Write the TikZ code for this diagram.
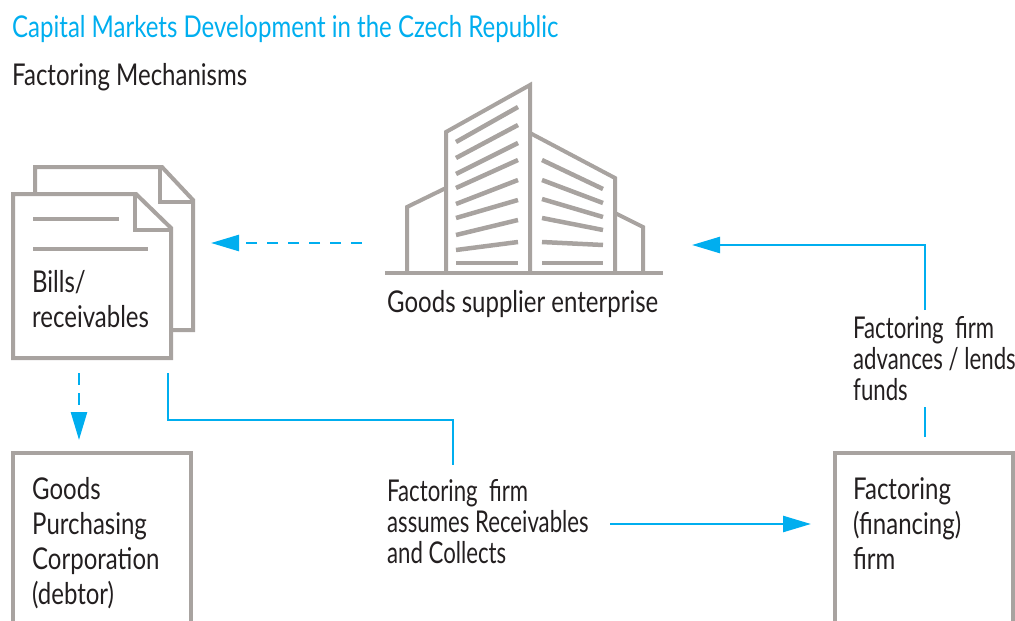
\documentclass[tikz,border=0pt]{standalone}
\usepackage{fontspec}
\setmainfont{Lato}[FakeStretch=0.8]
\newfontfamily\notefont{Lato}[FakeStretch=0.74]
\usetikzlibrary{positioning, arrows.meta}
\definecolor{fmblue}{RGB}{0,174,239}
\definecolor{fmgrey}{RGB}{168,163,160}
\definecolor{fmtext}{RGB}{35,31,32}

\begin{document}
\begin{tikzpicture}[
		x=1pt, y=-1pt,
		>={Triangle[length=28pt,width=16pt]},
		icon/.style={draw=fmgrey, line width=4pt},
		stripe/.style={draw=fmgrey, line width=4.5pt},
		party/.style={draw=fmgrey, line width=4pt, outer sep=0pt, minimum width=178pt, minimum height=220pt, anchor=north west},
		boxtext/.style={font=\fontsize{30}{35}\selectfont, text=fmtext, align=left, inner sep=0pt, anchor=base west},
		note/.style={font=\notefont\fontsize{30}{31}\selectfont, text=fmtext, align=left, inner sep=0pt, anchor=base west},
		flowline/.style={draw=fmblue, line width=2.5pt},
		flow/.style={->, flowline},
		dflow/.style={flow, dash pattern=on 11pt off 10pt},
		title/.style={font=\fontsize{30}{35}\selectfont, inner sep=0pt, anchor=base west}
		]
		\useasboundingbox (0,0) rectangle (1015,621);
		\clip (0,0) rectangle (1015,621);
		
		% ==========================================
		% TITLES
		% ==========================================
		\node[title, text=fmblue] (title) at (12,37) {Capital Markets Development in the Czech Republic};
		\node[title, text=fmtext] (subtitle) at (12,85) {Factoring Mechanisms};
		
		% ==========================================
		% BILLS / RECEIVABLES ICON
		% ==========================================
		\draw[icon, fill=white] (35,167) -- (162,167) -- (193,200) -- (193,330) -- (35,330) -- cycle;
		\draw[icon] (160,167) -- (160,202) -- (193,202);
		\draw[icon, fill=white] (13,194) -- (136,194) -- (171,228) -- (171,358) -- (13,358) -- cycle;
		\draw[icon] (135,194) -- (135,230) -- (171,230);
		\draw[icon] (33,219) -- (119,219);
		\draw[icon] (33,249) -- (148,249);
		\node[boxtext] (bills) at (32,327) {Bills/\\receivables};
		
		% ==========================================
		% SUPPLIER BUILDING ICON
		% ==========================================
		\draw[icon] (385,273) -- (663,273);
		\draw[icon] (407,273) -- (407,207) -- (446,188);
		\draw[icon] (446,273) -- (446,132) -- (530,85) -- (530,273);
		\draw[icon] (530,133) -- (615,178) -- (615,273);
		\draw[icon] (615,213) -- (643,227) -- (643,273);
		\foreach \l/\r in {142/107,158/125,174/143,188/160,204/180,218/200,235/220,250/242,263/263}
		\draw[stripe] (456,\l) -- (518,\r);
		\foreach \l/\r in {160/189,180/203,199/217,218/230,242/245,263/263}
		\draw[stripe] (542,\l) -- (603,\r);
		\node[boxtext] (supplier) at (387,312) {Goods supplier enterprise};
		
		% ==========================================
		% PARTIES
		% ==========================================
		\node[party] (debtor) at (13,453) {};
		\node[boxtext] (debtortext) at (32,604) {Goods\\Purchasing\\Corporation\\(debtor)};
		
		\node[party] (factor) at (835,453) {};
		\node[boxtext] (factortext) at (853,569) {Factoring\\(financing)\\firm};
		
		% Notes
		\node[note] (funds) at (853,400) {Factoring~~firm\\advances / lends\\funds};
		\node[note] (collect) at (387,563) {Factoring~~firm\\assumes Receivables\\and Collects};
		
		% ==========================================
		% FLOWS
		% ==========================================
		\coordinate (supplierW) at (362,243);
		\coordinate (billsE) at (211,243);
		\coordinate (billsS) at (79,373);
		\coordinate (debtorN) at (79,440);
		\coordinate (billsSE) at (168,373);
		\coordinate (collectN) at (453,465);
		\coordinate (collectE) at (610,524);
		\coordinate (factorW) at (811,524);
		\coordinate (factorN) at (925,437);
		\coordinate (fundsS) at (925,407);
		\coordinate (fundsN) at (925,310);
		\coordinate (supplierE) at (692,245);
		
		\draw[dflow] (supplierW) -- (billsE);
		\draw[flow, dash pattern=on 12pt off 8pt] (billsS) -- (debtorN);
		\draw[flowline] (billsSE) -- ++(0,47) -| (collectN);
		\draw[flow] (collectE) -- (factorW);
		\draw[flowline] (factorN) -- (fundsS);
		\draw[flow] (fundsN) |- (supplierE);
		
	\end{tikzpicture}
\end{document}
